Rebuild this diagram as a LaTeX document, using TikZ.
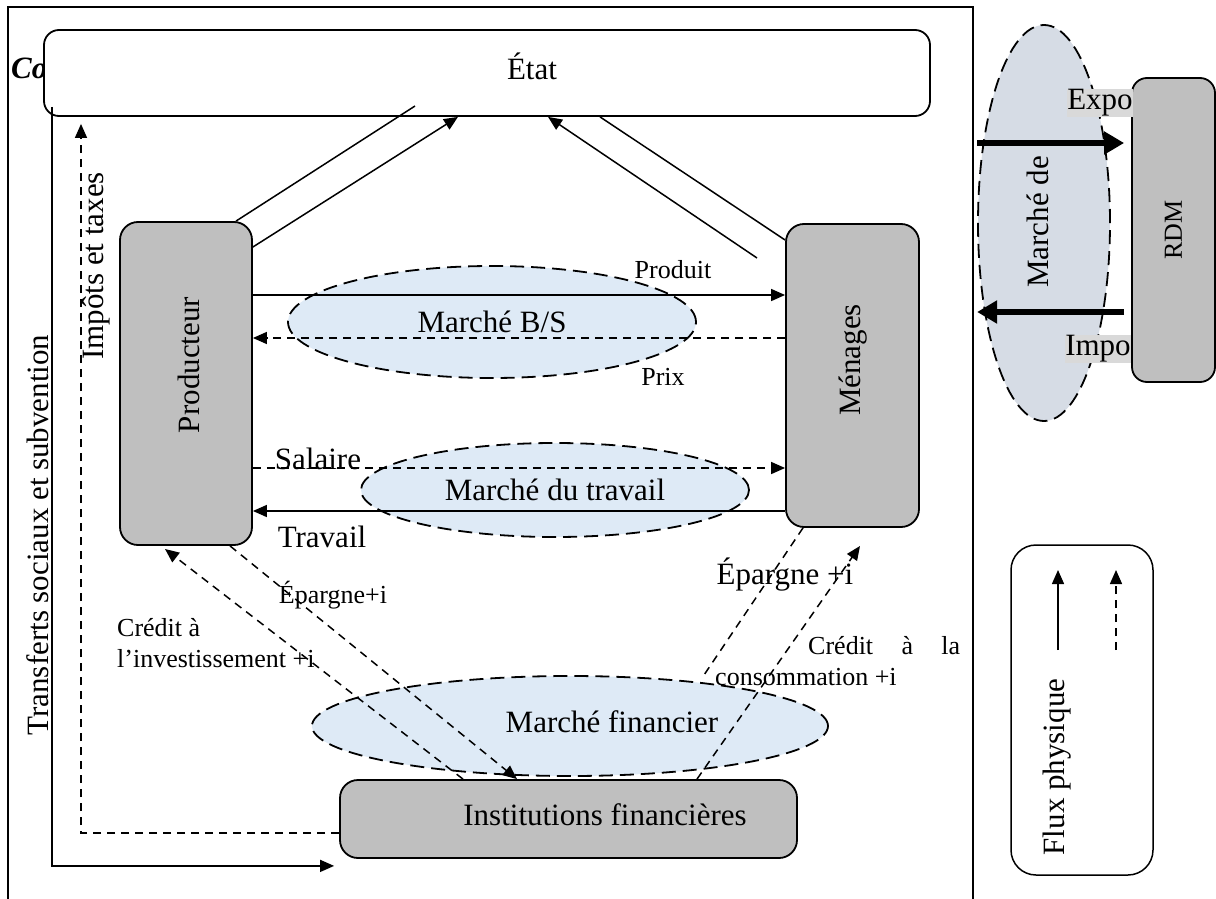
\documentclass[tikz,border=0pt]{standalone}
\usepackage{fontspec}
\setmainfont{Liberation Serif}
\usetikzlibrary{positioning, arrows.meta, shapes.geometric, calc}
\definecolor{boxgray}{HTML}{BFBFBF}
\definecolor{mktblue}{HTML}{DEEAF6}
\definecolor{rdmblue}{HTML}{D6DCE5}
\definecolor{lblgray}{HTML}{D9D9D9}
\newcommand{\bigtxt}{\fontsize{31}{36}\selectfont}
\newcommand{\smalltxt}{\fontsize{26}{31}\selectfont}

\begin{document}
\begin{tikzpicture}[
    x = 1pt, y = -1pt,
    > = {Triangle[length=14pt, width=12pt]},
    agent/.style = {
      rectangle, draw, line width = 1.8pt, fill = boxgray,
      rounded corners = 18pt, inner sep = 0pt
    },
    market/.style = {
      ellipse, draw, line width = 1.8pt, dash pattern = on 14pt off 7pt,
      fill = mktblue, inner sep = 0pt, font = \bigtxt
    },
    flow/.style = {->, line width = 1.5pt},
    money/.style = {->, line width = 1.5pt, dash pattern = on 8pt off 6pt},
    trade/.style = {-{Triangle[length=20pt, width=22pt]}, line width = 6pt},
    lbl/.style = {font = \bigtxt, inner sep = 0pt},
    smalllbl/.style = {font = \smalltxt, inner sep = 0pt},
    ]
    \useasboundingbox (0,0) rectangle (1216,899);

    % frame
    \draw [line width = 1.5pt] (8,899) -- (8,7) -- (973,7) -- (973,899);

    % state
    \node  [lbl, font = \bigtxt\bfseries\itshape, anchor = west]  (co)  at  (11,68)  {Co};
    \node  [draw, line width = 1.8pt, fill = white, rounded corners = 15pt,
      minimum width = 886pt, minimum height = 86pt, inner sep = 0pt]  (etat)  at  (487,73)  {};
    \node  [lbl]  (etattxt)  at  (532,66)  {État};

    % markets
    \node  [market, minimum width = 408pt, minimum height = 112pt]  (mbs)  at  (492,322)  {Marché B/S};
    \node  [market, minimum width = 388pt, minimum height = 94pt]  (mtrav)  at  (555,490)  {Marché du travail};
    \node  [market, minimum width = 516pt, minimum height = 100pt]  (mfin)  at  (570,726)  {};
    \node  [lbl]  (mfintxt)  at  (612,722)  {Marché financier};
    \node  [market, fill = rdmblue, minimum width = 132pt, minimum height = 396pt]  (mdev)  at  (1044,223)  {};
    \node  [lbl, rotate = 90]  (mdevtxt)  at  (1038,222)  {Marché de};

    % agents
    \node  [agent, minimum width = 132pt, minimum height = 323pt]  (prod)  at  (186,383.5)  {};
    \node  [lbl, rotate = 90]  (prodtxt)  at  (189,365)  {Producteur};
    \node  [agent, minimum width = 133pt, minimum height = 303pt]  (men)  at  (852.5,375.5)  {};
    \node  [lbl, rotate = 90]  (mentxt)  at  (853,360)  {Ménages};
    \node  [agent, minimum width = 457pt, minimum height = 78pt]  (inst)  at  (568.5,819)  {};
    \node  [lbl]  (insttxt)  at  (605,815)  {Institutions financières};
    \node  [agent, rounded corners = 15pt, minimum width = 83pt, minimum height = 304pt]  (rdm)  at  (1173.5,230)  {};
    \node  [smalllbl, rotate = 90]  (rdmtxt)  at  (rdm)  {RDM};

    % foreign trade
    \draw  [trade, shorten > = 7pt]  (mdev.west |- 0,143)  --  (rdm.west |- 0,143);
    \draw  [trade, shorten < = 7pt]  (rdm.west |- 0,312)  --  (mdev.west |- 0,312);
    \node  [lbl, fill = lblgray, inner sep = 0.5pt]  (expo)  at  (1100,103)  {Expo};
    \node  [lbl, fill = lblgray, inner sep = 0.5pt]  (impo)  at  (1098,349)  {Impo};

    % goods and labour
    \draw  [flow]  (prod.east |- 0,295)  --  (men.west |- 0,295);
    \draw  [money]  (men.west |- 0,338)  --  (prod.east |- 0,338);
    \draw  [money]  (prod.east |- 0,468)  --  (men.west |- 0,468);
    \draw  [flow]  (men.west |- 0,511)  --  (prod.east |- 0,511);
    \node  [smalllbl]  (produit)  at  (673,270)  {Produit};
    \node  [smalllbl]  (prix)  at  (663,377)  {Prix};
    \node  [lbl]  (salaire)  at  (318,459)  {Salaire};
    \node  [lbl]  (travail)  at  (322,537)  {Travail};

    % links with the state
    \draw  [line width = 1.5pt]  (prod.north -| 236,0)  --  (415,106);
    \draw  [flow]  (prod.east |- 0,247)  --  (etat.south -| 458,0);
    \coordinate  (mstart)  at  (757,258);
    \draw  [flow]  (mstart)  --  (etat.south -| 548,0);
    \draw  [line width = 1.5pt]  (men.west |- 0,240)  --  (etat.south -| 600,0);
    \draw  [money, shorten > = 7pt]  ([yshift = -14pt]inst.west)  -|  (etat.south -| 81,0);
    \draw  [flow]  ([xshift = 9pt, yshift = 10pt]etat.south west)  |-  ([xshift = -5pt, yshift = -7pt]inst.south west);
    \node  [lbl, rotate = 90]  (impots)  at  (96,266)  {Impôts et taxes};
    \node  [lbl, rotate = 90]  (transferts)  at  (38,535)  {Transferts sociaux et subvention};

    % financial flows
    \coordinate  (cinv)  at  (165,549);
    \coordinate  (ccons)  at  (860,546);
    \coordinate  (epend)  at  (702,678);
    \draw  [money]  (inst.north -| 463,0)  --  (cinv);
    \draw  [money]  (prod.south -| 230,0)  --  (inst.north -| 517,0);
    \draw  [money]  (inst.north -| 697,0)  --  (ccons);
    \draw  [money, -]  (men.south -| 803,0)  --  (epend);
    \node  [smalllbl]  (epl)  at  (333,595)  {Épargne+i};
    \node  [smalllbl, align = left, anchor = west]  (credinv)  at  (117,643)  {Crédit à\\l’investissement +i};
    \node  [lbl]  (epr)  at  (785,575)  {Épargne +i};
    \node  [smalllbl, align = left, anchor = west]  (credcons)  at  (715,661)
      {\hspace*{93pt}\makebox[152pt][s]{Crédit à la}\\consommation +i};

    % legend
    \node  [draw, line width = 1.5pt, fill = white, rounded corners = 25pt,
      minimum width = 142pt, minimum height = 330pt]  (legend)  at  (1082,710)  {};
    \node  [lbl, rotate = 90]  (legtxt)  at  (1057,767)  {Flux physique};
    \coordinate  (lsol)  at  (1058,650);
    \coordinate  (ldash)  at  (1116,650);
    \draw  [flow]  (lsol)  --  ++(0,-80);
    \draw  [money]  (ldash)  --  ++(0,-80);
\end{tikzpicture}
\end{document}
